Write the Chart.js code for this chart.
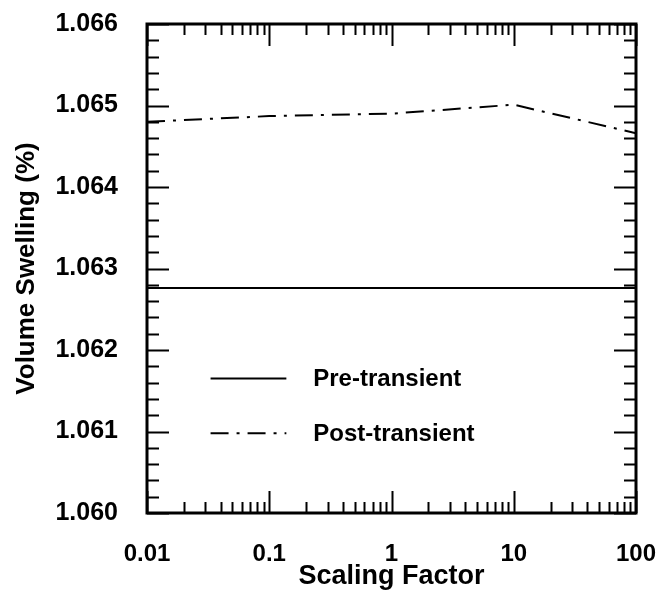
<!DOCTYPE html>
<html>
<head>
<meta charset="utf-8">
<script src="https://cdn.jsdelivr.net/npm/chart.js@4.4.1/dist/chart.umd.min.js"></script>
<style>
  html, body { margin: 0; padding: 0; background: #fff; }
  #wrap { width: 662px; height: 597px; position: relative; }
</style>
</head>
<body>
<div id="wrap"><canvas id="swellChart" width="662" height="597"></canvas></div>
<script>
// --- Data ---
const scalingFactors = [0.01, 0.1, 1, 10, 100];
const preTransient = [1.06276, 1.06276, 1.06276, 1.06276, 1.06276];
const postTransient = [1.06480, 1.06487, 1.06490, 1.06501, 1.06466];
const xTickValues = [0.01, 0.1, 1, 10, 100];
const xTickLabels = ['0.01', '0.1', '1', '10', '100'];
const yTickLabels = ['1.060', '1.061', '1.062', '1.063', '1.064', '1.065', '1.066'];

const FONT = "'Liberation Sans', Arial, sans-serif";
const DASH_DOT = [18, 8, 3, 8];

// inward ticks on all four sides, box frame, and the in-plot legend
const framePlugin = {
  id: 'frame',
  afterDatasetsDraw(chart) {
    const { ctx, chartArea: a, scales: { x, y } } = chart;
    ctx.save();
    ctx.strokeStyle = '#000';
    ctx.lineCap = 'butt';

    // x ticks (log decades + 2..9 minors)
    ctx.lineWidth = 2;
    for (let d = -2; d <= 2; d++) {
      for (let k = 1; k <= 9; k++) {
        const v = k * Math.pow(10, d);
        if (v < 0.01 || v > 100) continue;
        const px = Math.round(x.getPixelForValue(v)) + 0.5;
        const len = k === 1 ? 22 : 11;
        ctx.beginPath();
        ctx.moveTo(px, a.bottom); ctx.lineTo(px, a.bottom - len);
        ctx.moveTo(px, a.top); ctx.lineTo(px, a.top + len);
        ctx.stroke();
      }
    }

    // y ticks every 0.0002, long at each 0.001
    for (let i = 0; i <= 30; i++) {
      const v = 1.060 + i * 0.0002;
      const py = Math.round(y.getPixelForValue(v)) + 0.5;
      const len = i % 5 === 0 ? 22 : 12;
      ctx.beginPath();
      ctx.moveTo(a.left, py); ctx.lineTo(a.left + len, py);
      ctx.moveTo(a.right, py); ctx.lineTo(a.right - len, py);
      ctx.stroke();
    }

    // frame
    ctx.lineWidth = 3;
    ctx.strokeRect(a.left, a.top, a.right - a.left, a.bottom - a.top);

    // legend
    const w = a.right - a.left, h = a.bottom - a.top;
    const lx0 = a.left + w * 0.13, lx1 = a.left + w * 0.285, tx = a.left + w * 0.34;
    const rows = [a.top + h * 0.725, a.top + h * 0.837];
    ctx.font = "bold 24px " + FONT;
    ctx.fillStyle = '#000';
    ctx.textBaseline = 'middle';
    chart.data.datasets.forEach((ds, i) => {
      const ly = rows[i];
      ctx.lineWidth = 2;
      ctx.setLineDash(ds.borderDash || []);
      ctx.beginPath();
      ctx.moveTo(lx0, ly); ctx.lineTo(lx1, ly);
      ctx.stroke();
      ctx.setLineDash([]);
      ctx.fillText(ds.label, tx, ly + 1);
    });
    ctx.restore();
  }
};

const ctx = document.getElementById('swellChart').getContext('2d');
new Chart(ctx, {
  type: 'line',
  data: {
    datasets: [
      {
        label: 'Pre-transient',
        data: scalingFactors.map((s, i) => ({ x: s, y: preTransient[i] })),
        borderColor: '#000', borderWidth: 2, pointRadius: 0, tension: 0
      },
      {
        label: 'Post-transient',
        data: scalingFactors.map((s, i) => ({ x: s, y: postTransient[i] })),
        borderColor: '#000', borderWidth: 2, borderDash: DASH_DOT, pointRadius: 0, tension: 0
      }
    ]
  },
  options: {
    responsive: false,
    animation: false,
    layout: { padding: { left: 0, top: 24, right: 26, bottom: 0 } },
    plugins: { legend: { display: false }, tooltip: { enabled: false } },
    scales: {
      x: {
        type: 'logarithmic',
        min: 0.01, max: 100,
        grid: { display: false, drawTicks: false },
        border: { display: false },
        afterBuildTicks: s => { s.ticks = xTickValues.map(v => ({ value: v })); },
        afterFit: s => { s.height = 84; s.paddingLeft = 0; s.paddingRight = 0; },
        ticks: {
          autoSkip: false, maxRotation: 0, padding: 27, color: '#000',
          font: { family: FONT, size: 24, weight: 'bold' },
          callback: v => xTickLabels[xTickValues.indexOf(v)] ?? ''
        },
        title: {
          display: true, text: 'Scaling Factor', color: '#000',
          font: { family: FONT, size: 27, weight: 'bold' },
          padding: { top: 0, bottom: 4 }
        }
      },
      y: {
        min: 1.060, max: 1.066,
        grid: { display: false, drawTicks: false },
        border: { display: false },
        afterBuildTicks: s => { s.ticks = yTickLabels.map(t => ({ value: parseFloat(t) })); },
        afterFit: s => { s.width = 147; s.paddingTop = 0; s.paddingBottom = 0; },
        ticks: {
          padding: 29, color: '#000',
          font: { family: FONT, size: 25, weight: 'bold' },
          callback: (v, i) => yTickLabels[i]
        },
        title: {
          display: true, text: 'Volume Swelling (%)', color: '#000',
          font: { family: FONT, size: 26, weight: 'bold' },
          padding: { top: 11, bottom: 0 }
        }
      }
    }
  },
  plugins: [framePlugin]
});
</script>
</body>
</html>
